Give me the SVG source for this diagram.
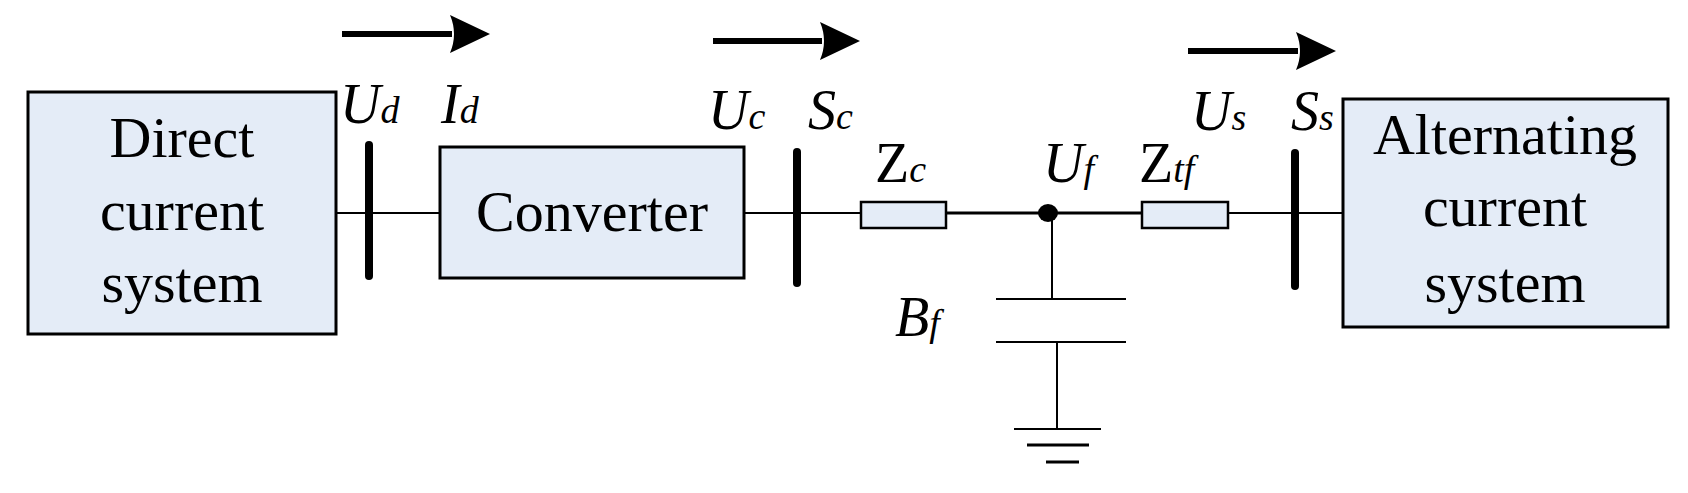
<svg xmlns="http://www.w3.org/2000/svg" width="1688" height="493" viewBox="0 0 1688 493">
<style>
.box{fill:#e4ecf7;stroke:#000;stroke-width:3}
.t{font-family:"Liberation Serif",serif;font-size:58px;text-anchor:middle}
.l{font-family:"Liberation Serif",serif;font-size:56px;font-style:italic}
.s{font-size:38px}
.n{font-style:normal}
.w{stroke:#000;stroke-width:2;fill:none}
.bus{stroke:#000;stroke-width:8;stroke-linecap:round}
</style>
<defs><marker id="ah" markerWidth="10" markerHeight="10" refX="10" refY="5" orient="auto" markerUnits="userSpaceOnUse" viewBox="0 0 10 10"><path d="M0,0 L10,5 L0,10 Z"/></marker></defs>
<g id="connectors">
<line class="w" x1="336" y1="213" x2="440" y2="213"/>
<line class="w" x1="744" y1="213" x2="861" y2="213"/>
<line class="w" x1="946" y1="213" x2="1142" y2="213" style="stroke-width:3"/>
<line class="w" x1="1228" y1="213" x2="1343" y2="213"/>
<line class="w" x1="1052" y1="213" x2="1052" y2="299"/>
<line class="w" x1="1057" y1="342" x2="1057" y2="429"/>
<line class="bus" x1="369" y1="145" x2="369" y2="276"/>
<line class="bus" x1="797" y1="152" x2="797" y2="283"/>
<line class="bus" x1="1295" y1="153" x2="1295" y2="286"/>
<g fill="#000">
<line x1="342" y1="34" x2="452" y2="34" stroke="#000" stroke-width="6"/><path d="M450,15 L490,34 L450,53 Q458,34 450,15Z"/>
<line x1="713" y1="41" x2="822" y2="41" stroke="#000" stroke-width="6"/><path d="M820,22 L860,41 L820,60 Q828,41 820,22Z"/>
<line x1="1188" y1="51" x2="1298" y2="51" stroke="#000" stroke-width="6"/><path d="M1296,32 L1336,51 L1296,70 Q1304,51 1296,32Z"/>
</g>
</g>
<g id="dc"><rect class="box" x="28" y="92" width="308" height="242"/>
<text class="t" x="182" y="157">Direct</text><text class="t" x="182" y="230">current</text><text class="t" x="182" y="302">system</text></g>
<g id="converter"><rect class="box" x="440" y="147" width="304" height="131"/><text class="t" x="592" y="231">Converter</text></g>
<g id="ac"><rect class="box" x="1343" y="99" width="325" height="228"/>
<text class="t" x="1505" y="154">Alternating</text><text class="t" x="1505" y="226">current</text><text class="t" x="1505" y="302">system</text></g>
<g id="zc"><rect class="box" x="861" y="202" width="85" height="26" style="stroke-width:2.5"/></g>
<g id="ztf"><rect class="box" x="1142" y="202" width="86" height="26" style="stroke-width:2.5"/></g>
<g id="node"><ellipse cx="1048" cy="213" rx="10" ry="9"/></g>
<g id="cap"><line class="w" x1="996" y1="299" x2="1126" y2="299"/><line class="w" x1="996" y1="342" x2="1126" y2="342"/></g>
<g id="ground"><line class="w" x1="1014" y1="429" x2="1101" y2="429"/><line x1="1027" y1="445" x2="1089" y2="445" stroke="#000" stroke-width="3"/><line x1="1046" y1="462" x2="1079" y2="462" stroke="#000" stroke-width="3"/></g>
<g id="labels">
<text class="l" x="340" y="123">U<tspan class="s">d</tspan></text>
<text class="l" x="441" y="123">I<tspan class="s">d</tspan></text>
<text class="l" x="708" y="129">U<tspan class="s">c</tspan></text>
<text class="l" x="808" y="129">S<tspan class="s">c</tspan></text>
<text class="l" x="875" y="182"><tspan class="n">Z</tspan><tspan class="s">c</tspan></text>
<text class="l" x="1043" y="182">U<tspan class="s">f</tspan></text>
<text class="l" x="1139" y="182"><tspan class="n">Z</tspan><tspan class="s">tf</tspan></text>
<text class="l" x="1191" y="130">U<tspan class="s">s</tspan></text>
<text class="l" x="1291" y="130">S<tspan class="s">s</tspan></text>
<text class="l" x="895" y="336">B<tspan class="s">f</tspan></text>
</g>
</svg>
